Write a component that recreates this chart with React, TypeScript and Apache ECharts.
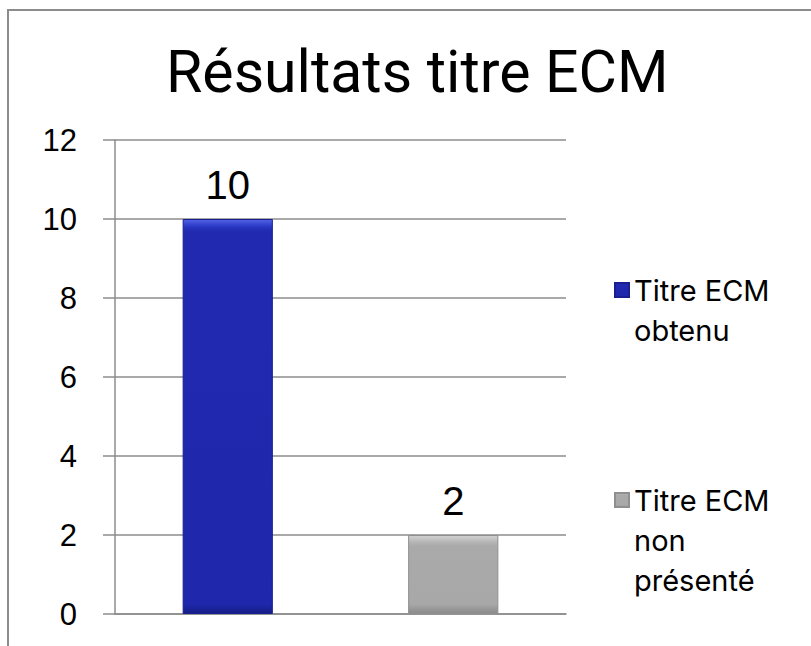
import React, { useEffect, useRef } from "react";
import * as echarts from "echarts";

const titleText = "Résultats titre ECM";
const categories = ["Titre ECM obtenu", "Titre ECM non présenté"];
const seriesNames = ["Titre ECM obtenu", "Titre ECM non présenté"];
const legendLines = [
  ["Titre ECM", "obtenu"],
  ["Titre ECM", "non", "présenté"],
];
const obtenuValues: (number | string)[] = [10, "-"];
const nonPresenteValues: (number | string)[] = ["-", 2];
const yMin = 0;
const yMax = 12;
const yInterval = 2;

const gridColor = "#8c8c8c";

const blueFill = {
  type: "linear",
  x: 0,
  y: 0,
  x2: 0,
  y2: 1,
  colorStops: [
    { offset: 0, color: "#5262e6" },
    { offset: 0.018, color: "#2a38c4" },
    { offset: 0.03, color: "#2029b0" },
    { offset: 0.975, color: "#1f28ac" },
    { offset: 1, color: "#151d86" },
  ],
};

const grayFill = {
  type: "linear",
  x: 0,
  y: 0,
  x2: 0,
  y2: 1,
  colorStops: [
    { offset: 0, color: "#d2d2d2" },
    { offset: 0.09, color: "#b4b4b4" },
    { offset: 0.14, color: "#aaaaaa" },
    { offset: 0.88, color: "#a8a8a8" },
    { offset: 1, color: "#8a8a8a" },
  ],
};

export default function App() {
  const ref = useRef<HTMLDivElement>(null);

  useEffect(() => {
    if (!ref.current) return;
    const chart = echarts.init(ref.current, undefined, { renderer: "svg" });
    // Leading blank lines keep the first text line level with the marker.
    const fmt = (name: string) => {
      const lines = legendLines[seriesNames.indexOf(name)];
      if (!lines) return name;
      const pad = new Array(lines.length - 1).fill("").join("\n");
      return pad + "\n" + lines.join("\n");
    };
    const legendText = {
      fontFamily: "Inter",
      fontSize: 29,
      lineHeight: 40,
      color: "#000000",
    };
    const legendCommon = {
      orient: "vertical",
      left: 614,
      padding: 0,
      itemWidth: 14,
      itemHeight: 14,
      icon: "rect",
      selectedMode: false,
      formatter: fmt,
      textStyle: legendText,
    };
    chart.setOption({
      animation: false,
      backgroundColor: "#ffffff",
      graphic: [
        {
          type: "rect",
          silent: true,
          z: -10,
          shape: { x: 8, y: 10, width: 1000, height: 1000 },
          style: { fill: "none", stroke: gridColor, lineWidth: 2 },
        },
      ],
      title: {
        text: titleText,
        left: 166,
        top: 42,
        padding: 0,
        textStyle: {
          fontFamily: "Roboto",
          fontSize: 59,
          fontWeight: "normal",
          color: "#000000",
        },
      },
      grid: {
        left: 115,
        right: 245,
        top: 140,
        bottom: 32,
        containLabel: false,
        outerBoundsMode: "none",
      },
      xAxis: {
        type: "category",
        data: categories,
        axisLine: { show: true, lineStyle: { color: gridColor, width: 1.5 } },
        axisTick: { show: false },
        axisLabel: { show: false },
        splitLine: { show: false },
      },
      yAxis: {
        type: "value",
        min: yMin,
        max: yMax,
        interval: yInterval,
        axisLine: { show: true, lineStyle: { color: gridColor, width: 1.5 } },
        axisTick: { show: true, length: 12, lineStyle: { color: gridColor, width: 1.5 } },
        axisLabel: {
          margin: 38,
          fontSize: 31,
          fontFamily: "Liberation Sans",
          color: "#000000",
        },
        splitLine: { show: true, lineStyle: { color: gridColor, width: 1.5 } },
      },
      legend: [
        { ...legendCommon, top: 230, data: [seriesNames[0]] },
        { ...legendCommon, top: 400, data: [seriesNames[1]] },
      ],
      series: [
        {
          name: seriesNames[0],
          type: "bar",
          stack: "total",
          barWidth: "40%",
          data: obtenuValues,
          itemStyle: { color: blueFill, borderColor: "#18208f", borderWidth: 1 },
          label: {
            show: true,
            position: "top",
            distance: 14,
            fontSize: 40,
            fontFamily: "Liberation Sans",
            color: "#000000",
          },
        },
        {
          name: seriesNames[1],
          type: "bar",
          stack: "total",
          barWidth: "40%",
          data: nonPresenteValues,
          itemStyle: { color: grayFill, borderColor: "#8f8f8f", borderWidth: 1 },
          label: {
            show: true,
            position: "top",
            distance: 14,
            fontSize: 40,
            fontFamily: "Liberation Sans",
            color: "#000000",
          },
        },
      ],
    });
    return () => chart.dispose();
  }, []);

  return (
    <div
      ref={ref}
      style={{ position: "fixed", left: 0, top: 0, width: 811, height: 646 }}
    />
  );
}
